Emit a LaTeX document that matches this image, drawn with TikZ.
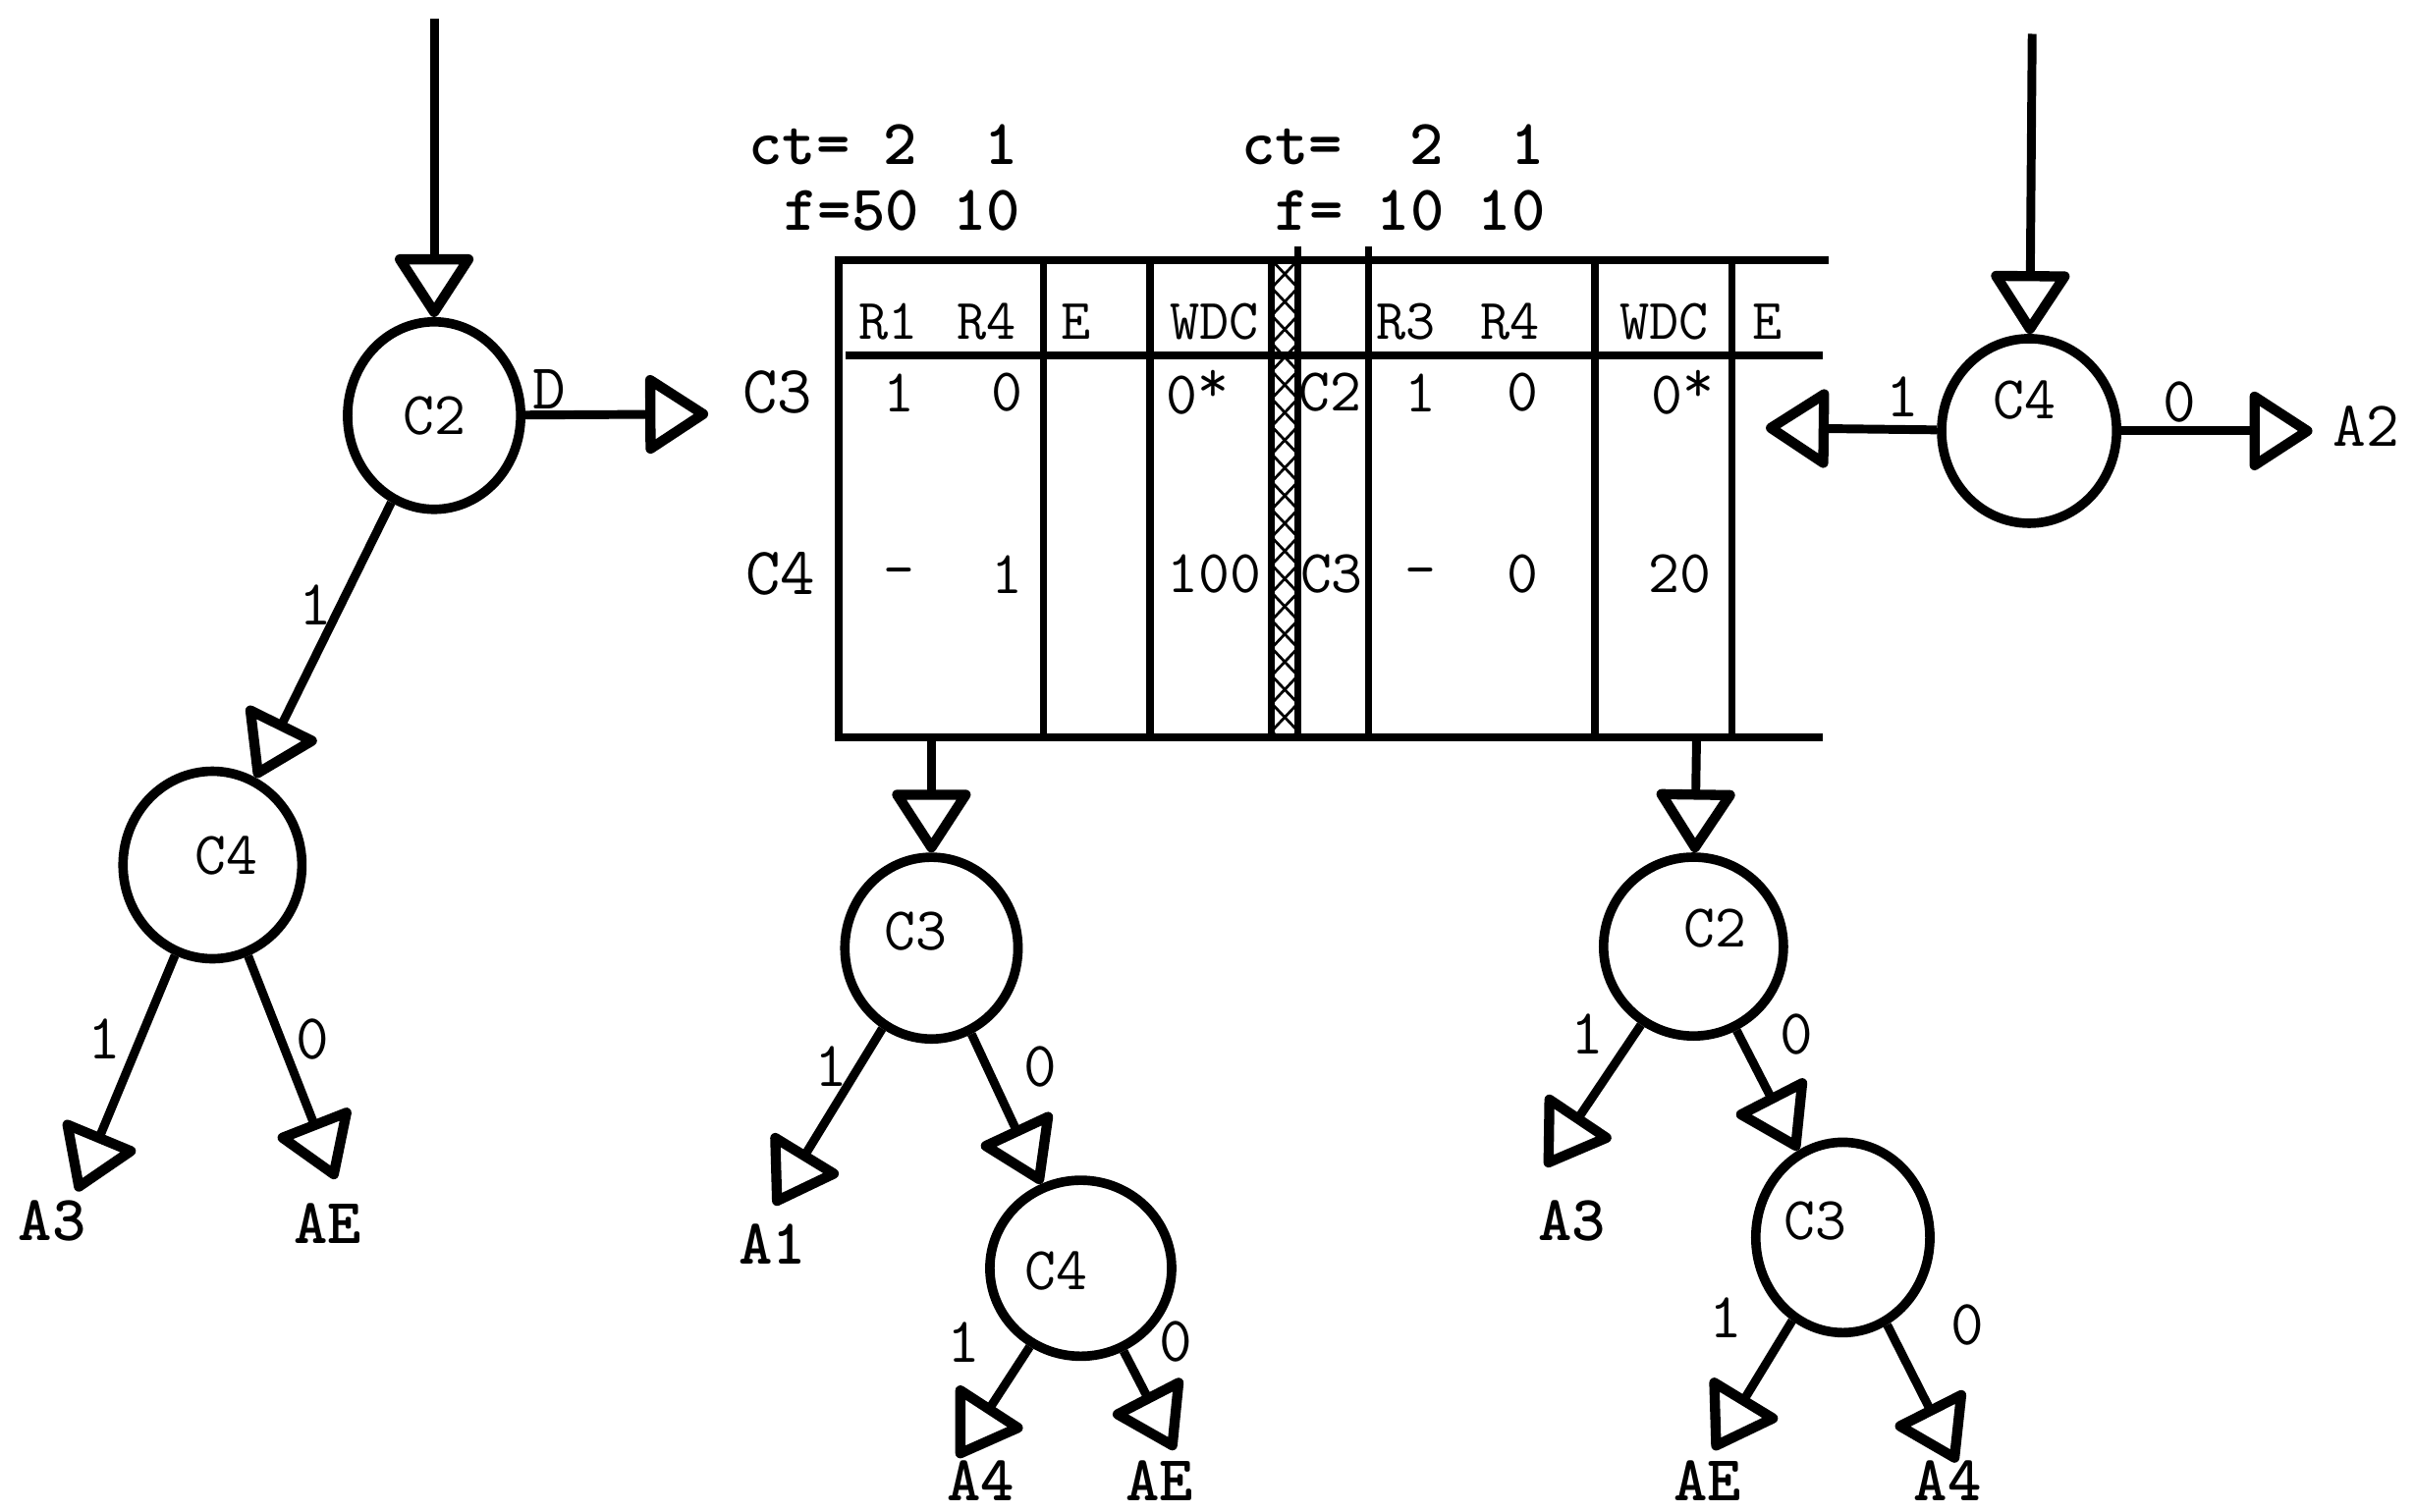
\documentclass[tikz,border=0pt]{standalone}
\usetikzlibrary{arrows.meta,shapes.geometric}
\newcommand\myfN{\ttfamily\fontsize{18}{20}\selectfont}
\newcommand\myfE{\ttfamily\fontsize{19}{21}\selectfont}
\newcommand\myfB{\ttfamily\bfseries\fontsize{19}{21}\selectfont}
\newcommand\myfH{\ttfamily\fontsize{17}{19}\selectfont}
\newcommand\myfR{\ttfamily\fontsize{20}{22}\selectfont}
\newcommand\myast{\raisebox{3.5pt}{*}}
\tikzset{
  cnode/.style={draw, ellipse, line width=2.8pt, minimum width=1.84cm, minimum height=1.9cm, inner sep=0pt},
  ctext/.style={font=\myfN, inner sep=0pt},
  conn/.style={line width=2.6pt, -{Triangle[open, length=0.7cm, width=0.88cm, round, line width=3pt]}},
  elbl/.style={font=\myfE, inner sep=0pt},
  leaf/.style={font=\myfB, inner sep=0pt},
  tline/.style={line width=2.4pt},
  tthin/.style={line width=2.1pt},
  hatch/.style={line width=0.8pt},
  cell/.style={font=\myfN, inner sep=0pt},
  headtxt/.style={font=\myfH, inner sep=0pt},
  rowlbl/.style={font=\myfR, inner sep=0pt},
  toptxt/.style={font=\myfB, inner sep=0pt, anchor=west},
}
\begin{document}
\begin{tikzpicture}[x=0.016cm, y=-0.016cm]
\fill[white] (0,0) rectangle (1568,982);
\useasboundingbox (0,0) rectangle (1568,982);

% ---------------- left tree ----------------
\coordinate (inL) at (282,12);
\node[cnode, minimum width=1.8cm, minimum height=1.95cm, label={[ctext]center:C2}] (C2L) at (282,270) {};
\node[cnode, minimum width=1.86cm, minimum height=1.95cm, label={[ctext,shift={(9,-6)}]center:C4}] (C4L) at (138,562) {};
\coordinate (dT) at (460,269);
\coordinate (tA3L) at (50,774);
\coordinate (tAEL) at (218,766);
\node[leaf] (A3L) at (34,793) {A3};
\node[leaf] (AEL) at (213,795) {AE};
\draw[conn] (inL) -- (C2L);
\draw[conn] (C2L) -- (dT) node[elbl] at (357,253) {D};
\draw[conn] (C2L) -- (C4L) node[elbl] at (205,393) {1};
\draw[conn] (C4L) -- (tA3L) node[elbl] at (68,675) {1};
\draw[conn] (C4L) -- (tAEL) node[elbl] at (203,675) {0};

% ---------------- table ----------------
\draw[tline] (542,169) -- (1188,169);
\draw[tline] (549,231) -- (1184,231);
\draw[tline] (542,479) -- (1184,479);
\draw[tline] (545,169) -- (545,479);
\foreach \xx in {678,747,1036,1125} \draw[tthin] (\xx,169) -- (\xx,479);
\draw[tthin] (889,160) -- (889,479);
\draw[tthin] (826,169) -- (826,479);
\draw[tthin] (843,160) -- (843,479);
\begin{scope}
  \clip (826,169) rectangle (843,479);
  \foreach \k in {0,...,9} {
    \draw[hatch] (826,{169+36*\k}) -- (843,{187+36*\k}) -- (826,{205+36*\k});
    \draw[hatch] (843,{169+36*\k}) -- (826,{187+36*\k}) -- (843,{205+36*\k});
  }
\end{scope}

\node[toptxt] (ct1) at (486,94) {ct=~2~~1};
\node[toptxt] (f1) at (509,137) {f=50~10};
\node[toptxt] (ct2) at (806,94) {ct=~~2~~1};
\node[toptxt] (f2) at (828,137) {f=~10~10};

\node[headtxt] (h1) at (577,209) {R1};
\node[headtxt] (h2) at (641,209) {R4};
\node[headtxt] (h3) at (699,209) {E};
\node[headtxt] (h4) at (789,209) {WDC};
\node[headtxt] (h5) at (913,209) {R3};
\node[headtxt] (h6) at (981,209) {R4};
\node[headtxt] (h7) at (1081,209) {WDC};
\node[headtxt] (h8) at (1148,209) {E};

\node[rowlbl] (r1) at (505,255) {C3};
\node[rowlbl] (r2) at (507,373) {C4};

\node[cell] (a1) at (584,255) {1};
\node[cell] (a2) at (654,255) {0};
\node[cell] (a3) at (778,255) {0\myast};
\node[cell] (a4) at (864,255) {C2};
\node[cell] (a5) at (923,255) {1};
\node[cell] (a6) at (989,255) {0};
\node[cell] (a7) at (1093,255) {0\myast};

\node[cell] (b1) at (584,376) {-};
\node[cell] (b2) at (654,373) {1};
\node[cell] (b3) at (789,373) {100};
\node[cell] (b4) at (865,373) {C3};
\node[cell] (b5) at (923,376) {-};
\node[cell] (b6) at (989,373) {0};
\node[cell] (b7) at (1091,373) {20};

% ---------------- middle tree ----------------
\coordinate (tb1) at (605,479);
\node[cnode, minimum width=1.8cm, minimum height=1.89cm, label={[ctext,shift={(-10,-11)}]center:C3}] (C3M) at (605,616) {};
\node[cnode, minimum width=1.89cm, minimum height=1.83cm, label={[ctext,shift={(-16,2)}]center:C4}] (C4M) at (702,824) {};
\coordinate (tA1) at (503,783);
\coordinate (tA4M) at (622,947);
\coordinate (tAEM) at (763,942);
\node[leaf] (A1) at (502,808) {A1};
\node[leaf] (A4M) at (637,962) {A4};
\node[leaf] (AEM) at (753,962) {AE};
\draw[conn] (tb1) -- (C3M);
\draw[conn] (C3M) -- (tA1) node[elbl] at (540,693) {1};
\draw[conn] (C3M) -- (C4M) node[elbl] at (676,693) {0};
\draw[conn] (C4M) -- (tA4M) node[elbl] at (626,872) {1};
\draw[conn] (C4M) -- (tAEM) node[elbl] at (764,872) {0};

% ---------------- right lower tree ----------------
\coordinate (tb2) at (1102,479);
\node[cnode, minimum width=1.87cm, minimum height=1.86cm, label={[ctext,shift={(14,-12)}]center:C2}] (C2R) at (1100,615) {};
\node[cnode, minimum width=1.81cm, minimum height=1.98cm, label={[ctext,shift={(-18,-11)}]center:C3}] (C3R) at (1197,804) {};
\coordinate (tA3R) at (1004,758);
\coordinate (tAER) at (1113,942);
\coordinate (tA4R) at (1271,950);
\node[leaf] (A3R) at (1021,793) {A3};
\node[leaf] (AER) at (1109,962) {AE};
\node[leaf] (A4R) at (1265,962) {A4};
\draw[conn] (tb2) -- (C2R);
\draw[conn] (C2R) -- (tA3R) node[elbl] at (1031,672) {1};
\draw[conn] (C2R) -- (C3R) node[elbl] at (1167,672) {0};
\draw[conn] (C3R) -- (tAER) node[elbl] at (1121,856) {1};
\draw[conn] (C3R) -- (tA4R) node[elbl] at (1278,861) {0};

% ---------------- top right ----------------
\coordinate (inR) at (1320,22);
\node[cnode, minimum width=1.82cm, minimum height=1.92cm, label={[ctext,shift={(-3,-20)}]center:C4}] (C4R) at (1318,280) {};
\coordinate (tL) at (1147,278);
\coordinate (tA2) at (1502,280);
\node[elbl] (A2) at (1537,277) {A2};
\draw[conn] (inR) -- (C4R);
\draw[conn] (C4R) -- (tL) node[elbl] at (1236,258) {1};
\draw[conn] (C4R) -- (tA2) node[elbl] at (1416,261) {0};
\end{tikzpicture}
\end{document}
